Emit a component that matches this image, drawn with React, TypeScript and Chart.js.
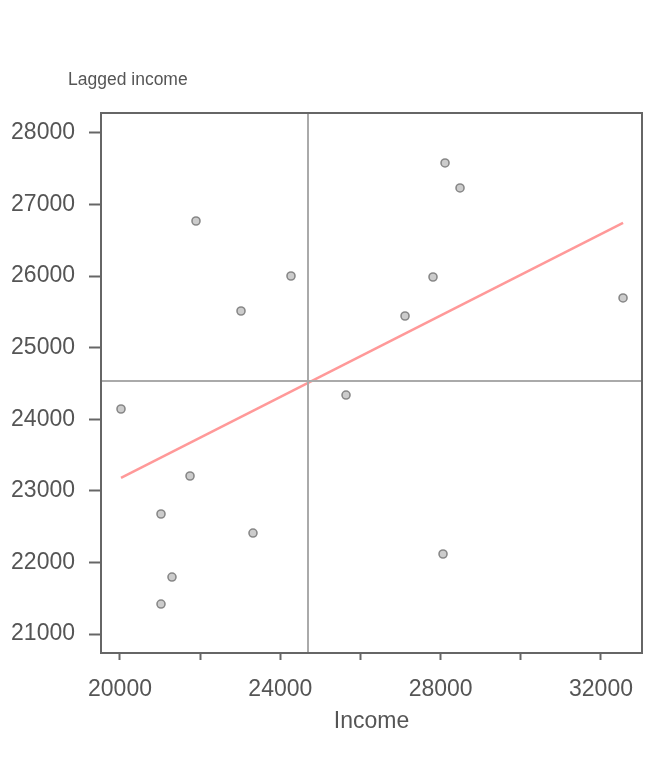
import React, { useEffect, useRef } from "react";
import { Chart, registerables } from "chart.js";

Chart.register(...registerables);

// Income (x) and lagged income (y) for each observation
const incomeValues = [21896, 24266, 23019, 20025, 21747, 21023, 23318, 21297, 21023, 25639, 27111, 27809, 28109, 28483, 32550, 28059];
const laggedValues = [26770, 26002, 25513, 24144, 23208, 22677, 22411, 21796, 21419, 24339, 25443, 25988, 27581, 27232, 25695, 22118];

// Fitted line end points
const fitX = [20025, 32550];
const fitY = [23180, 26743];

// Mean reference lines
const meanIncome = 24691;
const meanLagged = 24535;

// Axis ranges and ticks
const xRange = [19526, 33023];
const yRange = [20735, 28279];
const xTicks = [20000, 22000, 24000, 26000, 28000, 30000, 32000];
const xTickLabels = [20000, 24000, 28000, 32000];
const yTicks = [21000, 22000, 23000, 24000, 25000, 26000, 27000, 28000];

const FONT = "'Liberation Sans', Arial, sans-serif";
const TEXT = "#555555";

const decorPlugin = {
  id: "decor",
  afterDatasetsDraw(chart: any) {
    const { ctx, chartArea: a, scales } = chart;
    const mx = Math.round(scales.x.getPixelForValue(meanIncome));
    const my = Math.round(scales.y.getPixelForValue(meanLagged));
    ctx.save();
    ctx.strokeStyle = "#aaaaaa";
    ctx.lineWidth = 2;
    ctx.beginPath();
    ctx.moveTo(mx, a.top);
    ctx.lineTo(mx, a.bottom);
    ctx.moveTo(a.left, my);
    ctx.lineTo(a.right, my);
    ctx.stroke();
    ctx.restore();
  },
  afterDraw(chart: any) {
    const { ctx, chartArea: a } = chart;
    ctx.save();
    ctx.strokeStyle = "#666666";
    ctx.lineWidth = 2;
    ctx.strokeRect(a.left, a.top, a.right - a.left, a.bottom - a.top);
    ctx.fillStyle = TEXT;
    ctx.font = `17.5px ${FONT}`;
    ctx.textAlign = "left";
    ctx.textBaseline = "alphabetic";
    ctx.fillText("Lagged income", 68, 85);
    ctx.restore();
  },
};

export default function App() {
  const ref = useRef<HTMLCanvasElement>(null);
  useEffect(() => {
    if (!ref.current) return;
    const chart = new Chart(ref.current, {
      type: "scatter",
      data: {
        datasets: [
          {
            type: "line",
            data: fitX.map((x, i) => ({ x, y: fitY[i] })),
            borderColor: "#ff9999",
            borderWidth: 2.5,
            pointRadius: 0,
            fill: false,
            order: 2,
          } as any,
          {
            type: "scatter",
            data: incomeValues.map((x, i) => ({ x, y: laggedValues[i] })),
            backgroundColor: "#cccccc",
            borderColor: "#888888",
            borderWidth: 1.6,
            pointRadius: 4,
            order: 1,
          },
        ],
      },
      options: {
        animation: false,
        responsive: false,
        layout: { padding: { left: 0, top: 113, right: 30, bottom: 0 } },
        plugins: { legend: { display: false }, tooltip: { enabled: false } },
        scales: {
          x: {
            type: "linear",
            min: xRange[0],
            max: xRange[1],
            afterBuildTicks: (s: any) => {
              s.ticks = xTicks.map((v) => ({ value: v }));
            },
            afterFit: (s: any) => {
              s.height = 115;
            },
            ticks: {
              callback: (v: any) => (xTickLabels.includes(Number(v)) ? String(v) : ""),
              font: { size: 23, family: FONT },
              color: TEXT,
              padding: 16,
              autoSkip: false,
              maxRotation: 0,
            },
            grid: { drawOnChartArea: false, drawTicks: true, tickLength: 7, tickColor: "#666666", tickWidth: 2 } as any,
            border: { display: false },
            title: {
              display: true,
              text: "Income",
              font: { size: 23, family: FONT },
              color: TEXT,
              padding: { top: 0, bottom: 33 },
            },
          },
          y: {
            type: "linear",
            min: yRange[0],
            max: yRange[1],
            afterBuildTicks: (s: any) => {
              s.ticks = yTicks.map((v) => ({ value: v }));
            },
            afterFit: (s: any) => {
              s.width = 101;
            },
            ticks: {
              callback: (v: any) => String(v),
              font: { size: 23, family: FONT },
              color: TEXT,
              padding: 14,
              autoSkip: false,
            },
            grid: { drawOnChartArea: false, drawTicks: true, tickLength: 12, tickColor: "#666666", tickWidth: 2 } as any,
            border: { display: false },
          },
        },
      },
      plugins: [decorPlugin],
    });
    return () => chart.destroy();
  }, []);
  return (
    <div style={{ position: "absolute", left: 0, top: 0, width: 672, height: 768, background: "#fff" }}>
      <canvas ref={ref} width={672} height={768} />
    </div>
  );
}
